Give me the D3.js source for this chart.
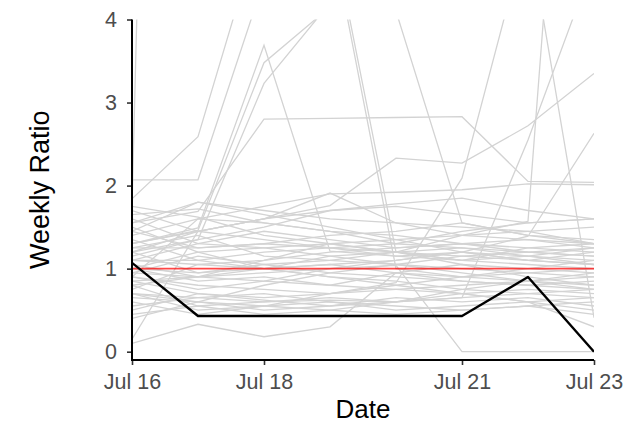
<!DOCTYPE html>
<html><head><meta charset="utf-8">
<script src="https://cdn.jsdelivr.net/npm/d3@7"></script>
<style>body{margin:0;background:#fff}svg{display:block}</style>
</head><body>
<svg id="chart" width="627" height="425"></svg>
<script>
// ---------------- data ----------------
const dates = ["2020-07-16","2020-07-17","2020-07-18","2020-07-19","2020-07-20","2020-07-21","2020-07-22","2020-07-23"];
const xTickDates = ["2020-07-16","2020-07-18","2020-07-21","2020-07-23"];
const yTicks = [0, 1, 2, 3, 4];
const referenceRatio = 1;
const highlightSeries = [1.07, 0.43, 0.43, 0.43, 0.43, 0.43, 0.90, 0.00];
const otherSeries = [
  [1.75, 33, 30, 28, 31, 29, 30, 32],
  [1.84, 2.59, 5.25, 5.1, 1.0, 0.9, 0.85, 0.95],
  [2.07, 2.07, 4.47, 5.2, 1.2, 1.1, 1.15, 1.05],
  [1.30, 1.46, 3.48, 4.15, 4.1, 1.55, 1.40, 1.30],
  [1.20, 1.35, 3.23, 4.2, 4.6, 5.0, 5.5, 6.0],
  [1.30, 1.49, 3.69, 1.21, 1.15, 1.10, 1.05, 1.00],
  [1.55, 1.69, 2.80, 2.81, 2.82, 2.83, 2.05, 2.04],
  [1.20, 1.45, 1.60, 1.76, 2.33, 2.27, 2.72, 3.35],
  [0.90, 0.80, 0.75, 0.70, 0.83, 2.09, 5.1, 0.41],
  [1.00, 0.95, 1.05, 1.10, 1.20, 1.40, 1.57, 12],
  [0.70, 0.65, 0.60, 0.62, 0.60, 0.65, 2.55, 4.7],
  [1.10, 1.05, 1.00, 1.05, 1.10, 1.20, 1.39, 2.63],
  [0.85, 0.90, 0.95, 1.00, 1.04, 0.00, 0.00, 0.00],
  [0.10, 0.33, 0.18, 0.30, 0.95, 0.85, 0.80, 0.75],
  [1.40, 1.60, 1.75, 1.90, 1.92, 1.95, 2.02, 2.01],
  [1.65, 1.72, 1.55, 1.45, 1.40, 1.30, 1.25, 1.20],
  [1.55, 1.80, 1.70, 1.60, 1.55, 1.50, 1.45, 1.30],
  [1.45, 1.25, 1.30, 1.40, 1.45, 1.55, 1.40, 1.35],
  [1.35, 1.10, 1.20, 1.25, 1.15, 1.20, 1.10, 1.05],
  [1.25, 1.40, 1.15, 1.10, 1.05, 1.00, 0.95, 0.90],
  [1.20, 0.95, 1.00, 1.15, 1.20, 1.10, 1.25, 1.30],
  [1.10, 1.30, 1.45, 1.35, 1.25, 1.30, 1.20, 1.15],
  [1.00, 0.85, 0.90, 0.80, 0.95, 1.05, 1.00, 0.95],
  [0.95, 1.15, 1.05, 0.95, 0.90, 0.85, 0.80, 0.85],
  [0.85, 0.70, 0.65, 0.70, 0.75, 0.80, 0.85, 0.80],
  [0.80, 0.55, 0.60, 0.65, 0.60, 0.70, 0.75, 0.70],
  [0.75, 1.05, 1.10, 1.20, 1.25, 1.30, 1.35, 1.25],
  [0.70, 0.50, 0.55, 0.60, 0.55, 0.50, 0.55, 0.60],
  [0.65, 0.60, 0.50, 0.55, 0.65, 0.60, 0.65, 0.55],
  [0.55, 0.65, 0.70, 0.60, 0.50, 0.55, 0.60, 0.65],
  [0.50, 0.70, 0.62, 0.55, 0.60, 0.65, 0.70, 0.75],
  [0.45, 0.55, 0.45, 0.50, 0.45, 0.50, 0.55, 0.45],
  [1.75, 1.62, 1.40, 1.30, 1.20, 1.25, 1.15, 1.10],
  [1.70, 1.45, 1.60, 1.70, 1.75, 1.65, 1.55, 1.60],
  [1.50, 1.20, 1.00, 0.90, 0.85, 0.75, 0.70, 0.65],
  [1.30, 1.45, 1.60, 1.91, 1.55, 1.40, 1.35, 1.30],
  [1.15, 1.35, 1.50, 1.70, 1.78, 1.85, 1.70, 1.60],
  [1.05, 0.90, 1.10, 1.30, 1.20, 1.05, 0.90, 0.80],
  [0.90, 0.75, 0.85, 1.00, 1.10, 1.20, 1.15, 1.25],
  [0.60, 0.45, 0.55, 0.70, 0.80, 0.90, 1.00, 1.10],
  [0.40, 0.60, 0.80, 0.95, 1.05, 1.15, 1.20, 1.25],
  [1.60, 1.30, 1.25, 1.15, 1.05, 0.95, 0.85, 0.75],
  [0.90, 1.60, 1.55, 1.45, 1.30, 1.25, 1.20, 1.15],
  [0.15, 1.45, 1.35, 1.25, 1.20, 1.15, 1.10, 1.05],
  [1.25, 1.25, 1.30, 1.25, 1.30, 1.45, 1.55, 1.60],
  [1.10, 1.10, 1.00, 0.90, 0.80, 0.70, 0.60, 0.50],
  [0.80, 0.90, 1.00, 1.05, 0.95, 0.90, 0.95, 1.00],
  [1.45, 1.80, 1.65, 1.50, 1.35, 1.20, 1.10, 1.20],
  [0.70, 0.60, 0.55, 0.50, 0.60, 0.75, 0.85, 0.90],
  [1.00, 1.20, 1.25, 1.30, 1.35, 1.40, 1.45, 1.50],
  [0.95, 0.90, 0.85, 0.80, 0.75, 0.70, 0.60, 0.30]
];

// ---------------- chart ----------------
const parse = d3.timeParse("%Y-%m-%d");
const svg = d3.select("#chart");
const x = d3.scaleTime().domain([parse(dates[0]), parse(dates[dates.length - 1])]).range([132, 594]);
const y = d3.scaleLinear().domain([-0.1, 4]).range([360, 19.5]);
const font = "'Liberation Sans', Arial, Helvetica, sans-serif";

svg.append("defs").append("clipPath").attr("id", "panel")
  .append("rect").attr("x", x.range()[0]).attr("y", y.range()[1])
  .attr("width", x.range()[1] - x.range()[0]).attr("height", y.range()[0] - y.range()[1]);

const line = d3.line().x((d, i) => x(parse(dates[i]))).y(d => y(d));
const plot = svg.append("g").attr("clip-path", "url(#panel)");

plot.selectAll("path.bg").data(otherSeries).join("path")
  .attr("class", "bg").attr("d", line)
  .attr("fill", "none").attr("stroke", "#d3d3d3").attr("stroke-width", 1.3);

plot.append("line")
  .attr("x1", x.range()[0]).attr("x2", x.range()[1])
  .attr("y1", y(referenceRatio)).attr("y2", y(referenceRatio))
  .attr("stroke", "#ff0000").attr("stroke-opacity", 0.72).attr("stroke-width", 1.9);

plot.append("path").datum(highlightSeries).attr("d", line)
  .attr("fill", "none").attr("stroke", "#000").attr("stroke-width", 2.4)
  .attr("stroke-linejoin", "round");

// axes
const xAxis = d3.axisBottom(x).tickValues(xTickDates.map(parse))
  .tickFormat(d3.timeFormat("%b %-d")).tickSize(5).tickPadding(9);
const yAxis = d3.axisLeft(y).tickValues(yTicks).tickFormat(d3.format("d")).tickSize(5).tickPadding(10);

const gx = svg.append("g").attr("transform", `translate(0,${y.range()[0]})`).call(xAxis);
const gy = svg.append("g").attr("transform", `translate(${x.range()[0]},0)`).call(yAxis);
[gx, gy].forEach(g => {
  g.select(".domain").remove();
  g.selectAll(".tick line").attr("stroke", "#333").attr("stroke-width", 1.6);
  g.selectAll(".tick text").attr("fill", "#4d4d4d").style("font-family", font).style("font-size", "21.5px");
});
svg.append("line").attr("x1", x.range()[0]).attr("x2", x.range()[0])
  .attr("y1", y.range()[1]).attr("y2", y.range()[0] + 1).attr("stroke", "#000").attr("stroke-width", 2);
svg.append("line").attr("x1", x.range()[0] - 1).attr("x2", x.range()[1])
  .attr("y1", y.range()[0]).attr("y2", y.range()[0]).attr("stroke", "#000").attr("stroke-width", 2);

svg.append("text").attr("x", (x.range()[0] + x.range()[1]) / 2).attr("y", 418)
  .attr("text-anchor", "middle").style("font-family", font).style("font-size", "26px")
  .text("Date");
svg.append("text").attr("transform", `translate(49,${(y.range()[0] + y.range()[1]) / 2}) rotate(-90)`)
  .attr("text-anchor", "middle").style("font-family", font).style("font-size", "27px")
  .text("Weekly Ratio");
</script>
</body></html>
